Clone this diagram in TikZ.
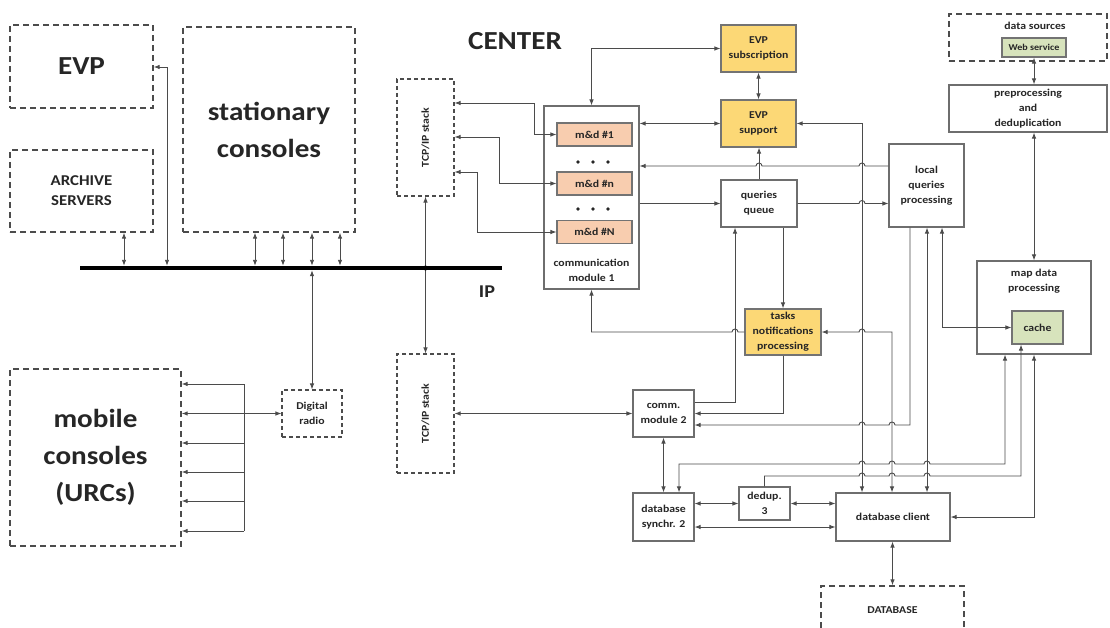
\documentclass[tikz,border=0pt]{standalone}
\usepackage{graphicx}
\usepackage{fontspec}
\setmainfont{Carlito}[FakeStretch=1.12]
\usetikzlibrary{positioning,arrows.meta}

\definecolor{mdpeach}{RGB}{248,205,175}
\definecolor{evpyellow}{RGB}{252,216,118}
\definecolor{cachegreen}{RGB}{215,227,188}
\definecolor{linegray}{RGB}{75,75,75}
\definecolor{boxgray}{RGB}{110,110,110}

\begin{document}
\begin{tikzpicture}[x=1pt, y=-1pt, >={Latex[length=6pt,width=4.5pt]},
    box/.style={rectangle, draw=boxgray, line width=1.1pt, fill=white, inner sep=0pt, text centered, align=center, font=\fontsize{10.5}{15}\selectfont\bfseries, text=black!85},
    dbox/.style={box, draw=black!70, dash pattern=on 6pt off 4pt, line width=1.3pt},
    sdbox/.style={dbox, dash pattern=on 4pt off 3pt, line width=1.1pt},
    mdbox/.style={box, fill=mdpeach, draw=black!55, minimum width=75pt, minimum height=23pt},
    ybox/.style={box, fill=evpyellow, draw=black!55},
    gbox/.style={box, fill=cachegreen, draw=black!55},
    big/.style={font=\fontsize{26}{37}\selectfont\bfseries},
    txt/.style={align=center, inner sep=0pt, font=\fontsize{10.5}{15}\selectfont\bfseries, text=black!85},
    link/.style={draw=linegray, line width=0.9pt}]

\useasboundingbox (0,0) rectangle (1110,628);

% External systems (left)
\node[dbox, big, minimum width=143pt, minimum height=83pt] (evp) at (81.5,66.5) {EVP};
\node[dbox, minimum width=143pt, minimum height=82pt, font=\fontsize{15}{20}\selectfont\bfseries] (archive) at (81.5,191) {ARCHIVE\\SERVERS};
\node[dbox, big, minimum width=172pt, minimum height=205pt] (stat) at (269,129.5) {stationary\\consoles};
\node[dbox, big, minimum width=171pt, minimum height=177pt] (mobile) at (95.5,457.5) {mobile\\consoles\\(URCs)};
\node[sdbox, minimum width=60pt, minimum height=47pt] (radio) at (312,413.5) {Digital\\radio};

% IP bus
\node[fill=black, minimum width=422pt, minimum height=4pt, inner sep=0pt] (bus) at (291,268) {};
\node[txt, font=\fontsize{18}{20}\selectfont\bfseries] (ip) at (487,292) {IP};

% TCP/IP stacks
\node[sdbox, minimum width=57pt, minimum height=117pt] (tcpup) at (425.5,137.5) {\rotatebox{90}{TCP/IP stack}};
\node[sdbox, minimum width=57pt, minimum height=119pt] (tcplow) at (425.5,413.5) {\rotatebox{90}{TCP/IP stack}};

% Center
\node[txt, font=\fontsize{26}{30}\selectfont\bfseries] (center) at (515,41) {CENTER};
\node[box, minimum width=95pt, minimum height=183pt] (comm1) at (591.5,197.5) {};
\node[txt] (comm1txt) at (591.5,270) {communication\\module 1};
\node[mdbox] (md1) at (594.5,134.5) {m\&d \#1};
\node[mdbox, below of=md1, node distance=49pt] (mdn) {m\&d \#n};
\node[mdbox, below of=mdn, node distance=48.5pt] (mdN) {m\&d \#N};
\foreach \y in {162,209}
  \foreach \x in {578,593,608}
    \fill[black!85] (\x,\y) circle (1.8);

\node[ybox, minimum width=75pt, minimum height=47pt] (evpsub) at (758.5,48.5) {EVP\\subscription};
\node[ybox, minimum width=75pt, minimum height=47pt] (evpsup) at (758.5,123.5) {EVP\\support};
\node[box, minimum width=76pt, minimum height=47pt] (queue) at (759,203.5) {queries\\queue};
\node[box, minimum width=75pt, minimum height=83pt] (local) at (926.5,185.5) {local\\queries\\processing};
\node[ybox, minimum width=76pt, minimum height=46pt] (tasks) at (783,332) {tasks\\notifications\\processing};

\node[box, minimum width=61pt, minimum height=47pt] (comm2) at (663.5,413.5) {comm.\\module 2};
\node[box, minimum width=61pt, minimum height=48pt] (synch) at (663.5,517) {database\\synchr. 2};
\node[box, minimum width=51pt, minimum height=33pt] (dedup) at (764.5,503.5) {dedup.\\3};
\node[box, minimum width=114pt, minimum height=48pt] (client) at (893,517) {database client};
\node[dbox, minimum width=143pt, minimum height=48pt] (db) at (892.5,610) {DATABASE};

% Map data (right)
\node[dbox, minimum width=158pt, minimum height=47pt] (sources) at (1028,37.5) {};
\node[txt] (srctxt) at (1035,26) {data sources};
\node[gbox, minimum width=64pt, minimum height=19pt, font=\fontsize{9}{11}\selectfont\bfseries] (websvc) at (1034,47.5) {Web service};
\node[box, minimum width=158pt, minimum height=47pt] (prep) at (1028,108.5) {preprocessing\\and\\deduplication};
\node[box, minimum width=114pt, minimum height=93pt] (map) at (1034,307.5) {};
\node[txt] (maptxt) at (1034,281) {map data\\processing};
\node[gbox, minimum width=51pt, minimum height=33pt] (cache) at (1037.5,327.5) {cache};

% Bus connections
\draw[link, <->] (archive.south -| 124,0) -- (bus.north -| 124,0);
\draw[link, <->] (evp.east |- 0,67) -| (bus.north -| 167,0);
\foreach \x in {255,283,312,340}
  \draw[link, <->] (stat.south -| \x,0) -- (bus.north -| \x,0);
\draw[link, <->] (bus.south -| radio.north) -- (radio.north);

% Mobile consoles
\coordinate (fanT) at (244,384);
\coordinate (fanB) at (244,531);
\draw[link] (fanT) -- (fanB);
\foreach \y in {384,443,472,501,531}
  \draw[link, <-] (mobile.east |- 0,\y) -- (fanT |- 0,\y);
\draw[link, <->] (mobile.east |- radio.west) -- (radio.west);

% TCP/IP stacks
\draw[link, <->] (tcpup.south) -- (tcplow.north);
\fill[black] (bus.center -| tcpup.south) circle (2.5);
\draw[link, <->] (tcpup.east |- 0,103) -- ++(80,0) |- (md1.west);
\draw[link, <->] (tcpup.east |- 0,137) -- ++(45,0) |- (mdn.west);
\draw[link, <->] (tcpup.east |- 0,172) -- ++(23,0) |- (mdN.west);
\draw[link, <->] (tcplow.east) -- (comm2.west);

% Communication module 1 and EVP
\draw[link, <->] (comm1.north) |- (evpsub.west);
\draw[link, <->] (evpsub) -- (evpsup);
\draw[link, <->] (comm1.east |- evpsup.west) -- (evpsup.west);
\draw[link, ->] (comm1.east |- queue.west) -- (queue.west);
\draw[link, ->] (queue.north) -- (queue.north |- evpsup.south);
\draw[link, <->] (evpsup.east) -| (client.north -| 862,0);
\draw[link, ->] (local.west |- 0,166) -- (865,166) arc[start angle=0, end angle=-180, radius=3]
  -- (762,166) arc[start angle=0, end angle=-180, radius=3] -- (comm1.east |- 0,166);
\draw[link, ->] (queue.east) -- (859,203.5) arc[start angle=180, end angle=360, radius=3] -- (local.west |- queue.east);

% Tasks and communication module 2
\draw[link, ->] (queue.south -| tasks.north) -- (tasks.north);
\draw[link, ->] (tasks.west) -- (738,332) arc[start angle=0, end angle=-180, radius=3]
  -- (comm1.south |- tasks.west) -- (comm1.south);
\draw[link, ->] (comm2.east |- 0,402) -| (queue.south -| 735,0);
\draw[link, ->] (tasks.south) |- (comm2.east);
\draw[link, ->] (local.south -| 910,0) -- (910,425) -- (895,425) arc[start angle=0, end angle=-180, radius=3]
  -- (865,425) arc[start angle=0, end angle=-180, radius=3] -- (comm2.east |- 0,425);
\draw[link, <->] (tasks.east) -- (859,332) arc[start angle=180, end angle=360, radius=3] -| (client.north -| 892,0);
\draw[link, <->] (local.south -| 927,0) -- (client.north -| 927,0);
\draw[link, <->] (local.south -| 942,0) |- (cache.west);

% Map data
\draw[link, <->] (websvc.south) -- (prep.north -| websvc.south);
\draw[link, <->] (prep.south -| map.north) -- (map.north);
\draw[link, <->] (map.south -| 1005,0) -- (1005,464) -- (930,464) arc[start angle=0, end angle=-180, radius=3]
  -- (895,464) arc[start angle=0, end angle=-180, radius=3]
  -- (865,464) arc[start angle=0, end angle=-180, radius=3] -- (679,464) -- (synch.north -| 679,0);
\draw[link, <-] (cache.south -| 1021,0) -- (1021,476) -- (930,476) arc[start angle=0, end angle=-180, radius=3]
  -- (895,476) arc[start angle=0, end angle=-180, radius=3]
  -- (865,476) arc[start angle=0, end angle=-180, radius=3] -- (dedup.north |- 0,476) -- (dedup.north);
\draw[link, <->] (map.south) |- (client.east);

% Database
\draw[link, <->] (comm2.south) -- (synch.north);
\draw[link, <->] (synch.east |- dedup.west) -- (dedup.west);
\draw[link, <->] (dedup.east) -- (client.west |- dedup.east);
\draw[link, <->] (synch.east |- 0,527) -- (client.west |- 0,527);
\draw[link, <->] (client.south -| db.north) -- (db.north);

\end{tikzpicture}
\end{document}
